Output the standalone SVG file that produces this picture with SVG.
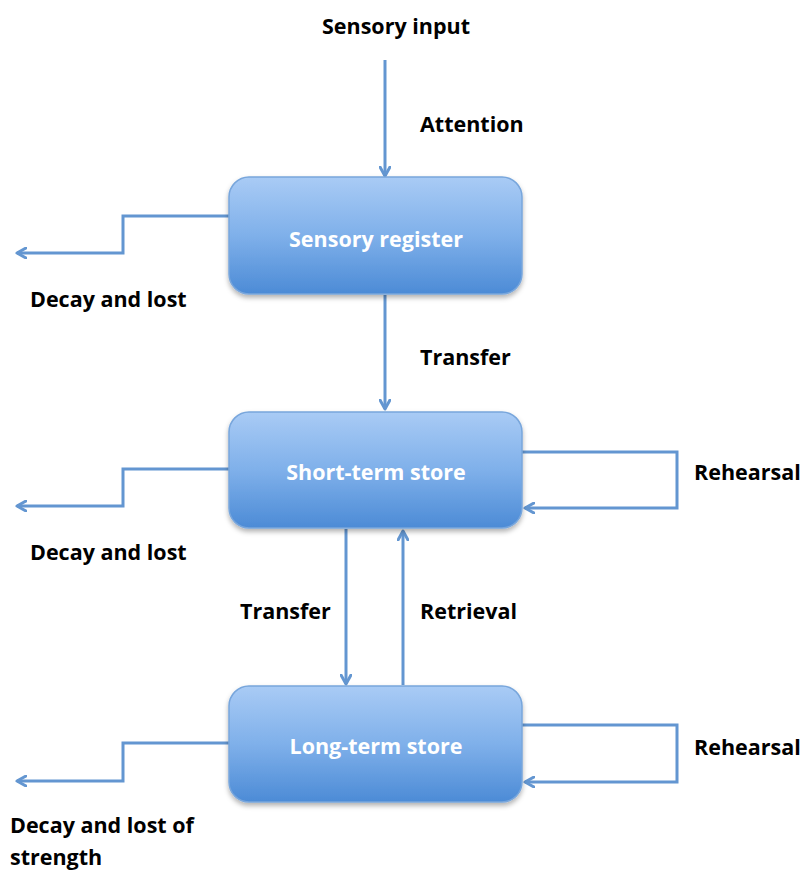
<svg xmlns="http://www.w3.org/2000/svg" width="802" height="870" viewBox="0 0 802 870">
<defs>
<linearGradient id="g" x1="0" y1="0" x2="0" y2="1">
<stop offset="0" stop-color="#a9cbf5"/>
<stop offset="0.5" stop-color="#7fb0ea"/>
<stop offset="1" stop-color="#4c8bd6"/>
</linearGradient>
<filter id="sh" x="-10%" y="-10%" width="120%" height="130%">
<feDropShadow dx="0" dy="3" stdDeviation="2.5" flood-color="#000" flood-opacity="0.3"/>
</filter>
<marker id="ah" viewBox="0 0 12 12" refX="10" refY="6" markerWidth="12" markerHeight="12" markerUnits="userSpaceOnUse" orient="auto">
<path d="M1,1 L10,6 L1,11" fill="none" stroke="#6396d1" stroke-width="3" stroke-linecap="round" stroke-linejoin="round"/>
</marker>
</defs>
<style>
.box{fill:url(#g);stroke:#78a6dc;stroke-width:1.5;filter:url(#sh)}
.bt{font-family:"Open Sans","Liberation Sans",sans-serif;font-weight:bold;font-size:21.5px;fill:#fff;text-anchor:middle}
.lb{font-family:"Open Sans","Liberation Sans",sans-serif;font-weight:bold;font-size:21.5px;fill:#000}
.c{fill:none;stroke:#6396d1;stroke-width:3;marker-end:url(#ah)}
</style>
<g id="connectors">
<path class="c" d="M385,60 V176"/>
<path class="c" d="M385,295 V409"/>
<path class="c" d="M346,529 V684"/>
<path class="c" d="M403,685 V531"/>
<path class="c" d="M229,216 H123 V253 H17"/>
<path class="c" d="M229,469 H123 V506 H17"/>
<path class="c" d="M229,743 H123 V781 H17"/>
<path class="c" d="M522,452 H677 V508 H525"/>
<path class="c" d="M522,725 H677 V782 H525"/>
</g>
<g id="sensory-register">
<rect class="box" x="229" y="177" width="293" height="117" rx="20"/>
<text class="bt" x="376" y="247">Sensory register</text>
</g>
<g id="short-term-store">
<rect class="box" x="229" y="412" width="293" height="116" rx="20"/>
<text class="bt" x="376" y="480">Short-term store</text>
</g>
<g id="long-term-store">
<rect class="box" x="229" y="686" width="293" height="116" rx="20"/>
<text class="bt" x="376" y="754">Long-term store</text>
</g>
<g id="labels">
<text class="lb" x="322" y="34">Sensory input</text>
<text class="lb" x="420" y="132">Attention</text>
<text class="lb" x="420" y="365">Transfer</text>
<text class="lb" x="240" y="619">Transfer</text>
<text class="lb" x="420" y="619">Retrieval</text>
<text class="lb" x="694" y="480">Rehearsal</text>
<text class="lb" x="694" y="755">Rehearsal</text>
<text class="lb" x="30" y="307">Decay and lost</text>
<text class="lb" x="30" y="560">Decay and lost</text>
<text class="lb" x="10" y="833">Decay and lost of</text>
<text class="lb" x="10" y="865">strength</text>
</g>
</svg>
